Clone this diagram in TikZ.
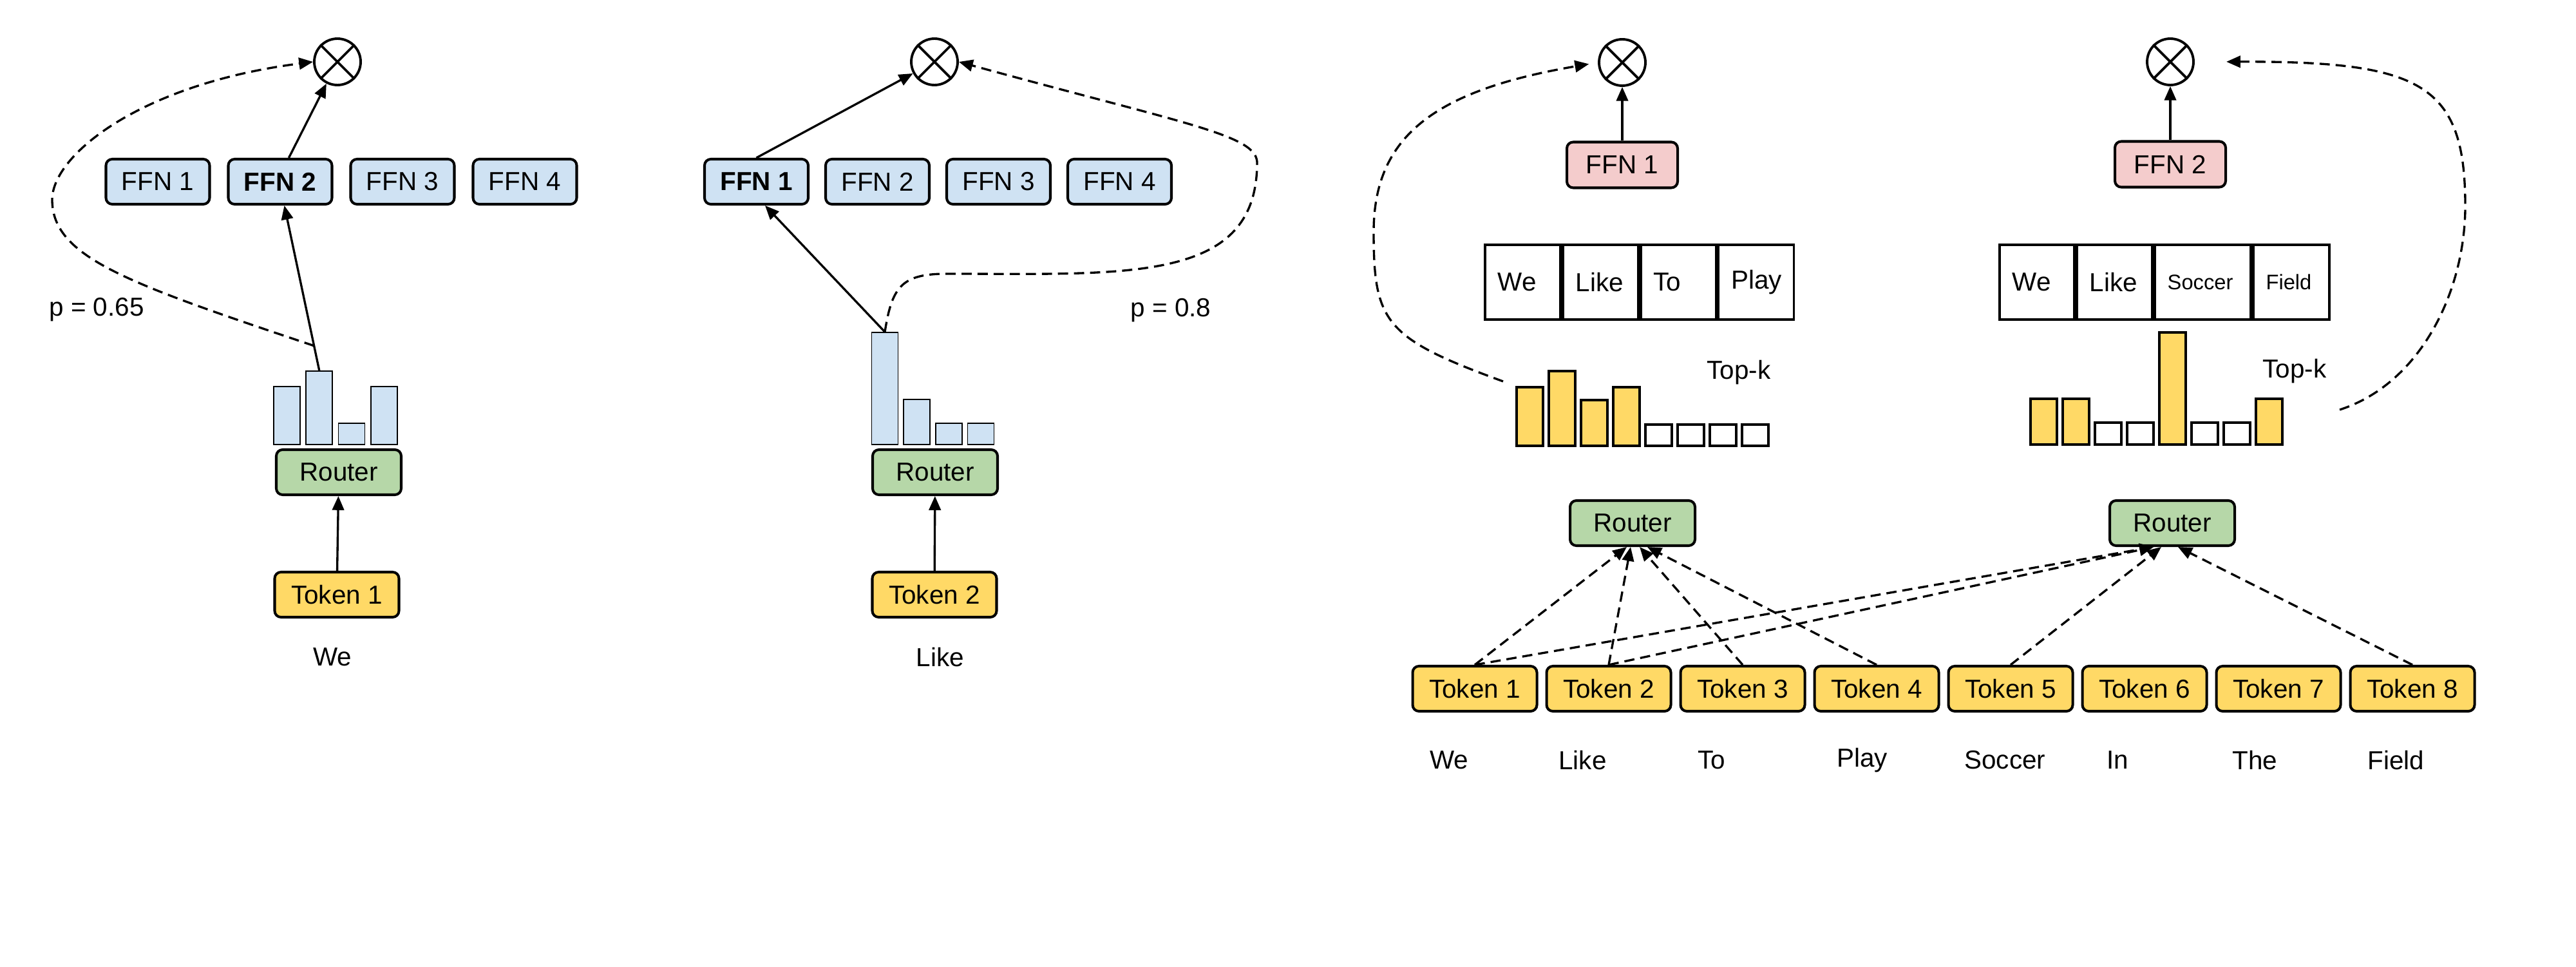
\documentclass[tikz,border=0pt]{standalone}
\usepackage{fontspec}
\setmainfont{Liberation Sans}
\usepackage{tikz}
\usetikzlibrary{arrows.meta, positioning, calc}
\definecolor{mBlue}{HTML}{CFE2F3}
\definecolor{mGreen}{HTML}{B6D7A8}
\definecolor{mYellow}{HTML}{FFD966}
\definecolor{mPink}{HTML}{F4CCCC}

\begin{document}
\begin{tikzpicture}[
    every node/.style={font=\fontsize{11.5}{14}\selectfont},
    box/.style={draw, line width=1.15pt, rounded corners=2.8pt, minimum height=0.70cm, inner sep=0pt},
    ffn/.style={box, fill=mBlue, minimum width=1.61cm},
    expert/.style={box, fill=mPink, minimum width=1.72cm, minimum height=0.71cm},
    router/.style={box, fill=mGreen, minimum width=1.94cm},
    token/.style={box, fill=mYellow, minimum width=1.93cm},
    mul/.style={circle, draw, line width=1.1pt, minimum size=0.72cm, inner sep=0pt},
    pbar/.style={draw, line width=0.5pt, fill=mBlue, minimum width=0.41cm, inner sep=0pt, anchor=south},
    kbar/.style={draw, line width=1.1pt, minimum width=0.41cm, inner sep=0pt, anchor=south},
    cell/.style={draw, line width=1.1pt, minimum height=1.16cm, inner xsep=2mm, inner ysep=0pt, anchor=west, align=left},
    smallcell/.style={cell, font=\fontsize{9.3}{11}\selectfont},
    arr/.style={-{Triangle[length=6.2pt, width=5.2pt]}, line width=0.95pt},
    darr/.style={arr, dash pattern=on 4.5pt off 2.6pt},
  ]
  \useasboundingbox (0,0) rectangle (40,15);

  % token 1
  \node[token] (tokA) at (5.23,5.77) {Token 1};
  \node (wordA) at (5.16,4.80) {We};
  \node[router] (routerA) at (5.26,7.67) {Router};
  \foreach \h [count=\i] in {0.90,1.14,0.33,0.90} {
    \node[pbar, minimum height=\h cm] (barA\i) at ({4.455+0.503*(\i-1)},8.09) {};
  }
  \foreach \i in {1,...,4} {
    \ifnum\i=2 \def\lbl{\textbf{FFN \i}}\else\def\lbl{FFN \i}\fi
    \node[ffn] (ffnA\i) at ({2.45+1.90*(\i-1)},12.18) {\lbl};
  }
  \node[mul] (mulA) at (5.24,14.04) {};
  \draw[line width=1.1pt] (mulA.north west) -- (mulA.south east) (mulA.north east) -- (mulA.south west);
  \draw[arr] (tokA) -- (routerA);
  \draw[arr] (barA2.north) -- (ffnA2.-80);
  \draw[arr] (ffnA2.70) -- (mulA);
  \coordinate (startA) at ($(barA2.north)!0.15!(ffnA2.-80)$);
  \coordinate (bendA) at (0.81,11.9);
  \draw[darr] (startA) .. controls (2.0,10.6) and (0.81,11.0) .. (bendA)
    .. controls (0.81,12.6) and (2.2,13.7) .. (mulA.west);
  \node (pA) at (1.50,10.19) {p = 0.65};

  % token 2
  \node[token] (tokB) at (14.51,5.77) {Token 2};
  \node (wordB) at (14.60,4.80) {Like};
  \node[router] (routerB) at (14.52,7.67) {Router};
  \foreach \h [count=\i] in {1.74,0.70,0.33,0.33} {
    \node[pbar, minimum height=\h cm] (barB\i) at ({13.74+0.497*(\i-1)},8.09) {};
  }
  \foreach \i in {1,...,4} {
    \ifnum\i=1 \def\lbl{\textbf{FFN \i}}\else\def\lbl{FFN \i}\fi
    \node[ffn] (ffnB\i) at ({11.745+1.88*(\i-1)},12.18) {\lbl};
  }
  \node[mul] (mulB) at (14.51,14.04) {};
  \draw[line width=1.1pt] (mulB.north west) -- (mulB.south east) (mulB.north east) -- (mulB.south west);
  \draw[arr] (tokB) -- (routerB);
  \draw[arr] (barB1.north) -- (ffnB1.-70);
  \draw[arr] (ffnB1.north) -- (mulB);
  \coordinate (bendB1) at (14.7,10.75);
  \coordinate (bendB2) at (19.52,12.45);
  \draw[darr] (barB1.north) .. controls (13.85,10.55) and (14.0,10.75) .. (bendB1)
    .. controls (17.5,10.75) and (19.5,10.6) .. (bendB2)
    .. controls (19.55,12.9) and (18.5,13.05) .. (mulB.east);
  \node (pB) at (18.18,10.18) {p = 0.8};

  % top-k, expert 1
  \node[mul] (mulC) at (25.19,14.03) {};
  \draw[line width=1.1pt] (mulC.north west) -- (mulC.south east) (mulC.north east) -- (mulC.south west);
  \node[expert] (ffnC) at (25.19,12.44) {FFN 1};
  \node[cell, text width=0.77cm] (cellC1) at (23.04,10.62) {We};
  \foreach \t [count=\i from 2] in {Like,To,Play} {
    \pgfmathtruncatemacro{\j}{\i-1}
    \node[cell, text width=0.77cm, right=0pt of cellC\j] (cellC\i) {\t};
  }
  \foreach \h/\c [count=\i] in {0.91/mYellow,1.16/mYellow,0.71/mYellow,0.91/mYellow,0.33/white,0.33/white,0.33/white,0.33/white} {
    \node[kbar, fill=\c, minimum height=\h cm] (barC\i) at ({23.755+0.5*(\i-1)},8.06) {};
  }
  \node (topkC) at (27.00,9.22) {Top-k};
  \draw[arr] (ffnC) -- (mulC);
  \coordinate (startC) at (23.34,9.08);
  \coordinate (bendC) at (21.33,11.4);
  \draw[darr, shorten >=4pt] (startC) .. controls (21.5,9.75) and (21.33,10.0) .. (bendC)
    .. controls (21.33,12.9) and (22.3,13.6) .. (mulC.west);

  % top-k, expert 2
  \node[mul] (mulD) at (33.70,14.04) {};
  \draw[line width=1.1pt] (mulD.north west) -- (mulD.south east) (mulD.north east) -- (mulD.south west);
  \node[expert] (ffnD) at (33.70,12.45) {FFN 2};
  \node[cell, text width=0.76cm] (cellD1) at (31.03,10.62) {We};
  \node[cell, text width=0.77cm, right=0pt of cellD1] (cellD2) {Like};
  \node[smallcell, text width=1.09cm, right=0pt of cellD2] (cellD3) {Soccer};
  \node[smallcell, text width=0.78cm, right=0pt of cellD3] (cellD4) {Field};
  \foreach \h/\c [count=\i] in {0.71/mYellow,0.71/mYellow,0.34/white,0.34/white,1.74/mYellow,0.34/white,0.34/white,0.71/mYellow} {
    \node[kbar, fill=\c, minimum height=\h cm] (barD\i) at ({31.735+0.5*(\i-1)},8.08) {};
  }
  \node (topkD) at (35.63,9.24) {Top-k};
  \draw[arr] (ffnD) -- (mulD);
  \coordinate (startD) at (36.33,8.64);
  \coordinate (bendD) at (38.28,11.8);
  \draw[darr, shorten >=14pt] (startD) .. controls (37.6,9.05) and (38.28,10.5) .. (bendD)
    .. controls (38.28,13.7) and (37.6,14.05) .. (mulD.east);

  % routers and tokens
  \node[router] (routerC) at (25.35,6.88) {Router};
  \node[router] (routerD) at (33.73,6.88) {Router};
  \foreach \i in {1,...,8}
    \node[token] (tok\i) at ({22.90+2.08*(\i-1)},4.31) {Token \i};
  \foreach \w/\x [count=\i] in {We/22.08,Like/24.08,To/26.24,Play/28.40,Soccer/30.38,In/32.59,The/34.54,Field/36.64}
    \node[anchor=west] (word\i) at (\x,3.20) {\w};
  \foreach \i/\dx in {1/-0.09,2/-0.03,3/0.11,4/0.23}
    \draw[darr] (tok\i.north) -- ($(routerC.south)+(\dx,0)$);
  \foreach \i/\dx in {1/-0.29,2/-0.29,5/-0.17,8/0.09}
    \draw[darr] (tok\i.north) -- ($(routerD.south)+(\dx,0)$);
\end{tikzpicture}
\end{document}
